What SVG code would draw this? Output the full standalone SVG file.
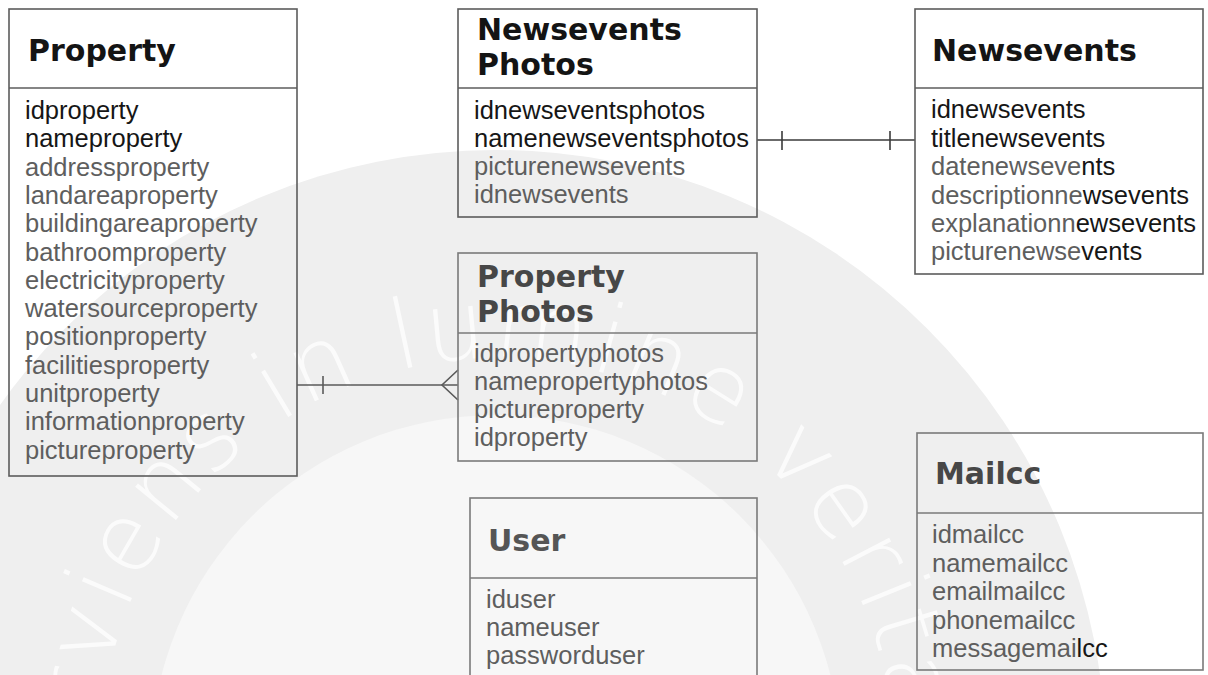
<svg xmlns="http://www.w3.org/2000/svg" width="1208" height="675" viewBox="0 0 1208 675">
  <defs>
    <style>
      .box { fill: none; stroke: #5c5c5c; stroke-width: 1.6; }
      .box-soft { fill: none; stroke: #7a7a7a; stroke-width: 1.6; }
      .title { font-family: "DejaVu Sans", "Liberation Sans", sans-serif; font-weight: bold; font-size: 30px; }
      .attr { font-family: "Liberation Sans", Arial, sans-serif; font-size: 25.5px; }
      .k { fill: #161616; }
      .g { fill: #5e5e5e; }
      .t-dark { fill: #141414; }
      .t-mid { fill: #474747; }
      .t-soft { fill: #555555; }
      .wire { fill: none; stroke: #3a3a3a; stroke-width: 1.6; }
      .wire-soft { fill: none; stroke: #5a5a5a; stroke-width: 1.6; }
      .seal-text { font-family: "DejaVu Sans", "Liberation Sans", sans-serif; font-weight: 200; font-size: 96px; letter-spacing: 4px; fill: #ffffff; fill-opacity: 0.75; }
    </style>
    <path id="motto-arc" d="M 107.3 829.6 A 396 396 0 1 1 839 952"/>
  </defs>

  <rect x="0" y="0" width="1208" height="675" fill="#ffffff"/>

  <!-- faint seal in the background -->
  <g id="seal">
    <circle cx="496" cy="760" r="610" fill="#efefef"/>
    <circle cx="496" cy="760" r="345" fill="#f7f7f7"/>
    <text class="seal-text"><textPath href="#motto-arc">serviens in lumine veritatis</textPath></text>
  </g>

  <!-- relationships -->
  <g id="connectors">
    <g id="newseventsphotos-newsevents">
      <line class="wire" x1="757" y1="140" x2="915" y2="140"/>
      <line class="wire" x1="782" y1="131" x2="782" y2="150"/>
      <line class="wire" x1="890" y1="131" x2="890" y2="150"/>
    </g>
    <g id="property-propertyphotos">
      <line class="wire-soft" x1="297" y1="385" x2="458" y2="385"/>
      <line class="wire-soft" x1="323" y1="376" x2="323" y2="394"/>
      <polyline class="wire-soft" points="458,370 442,385 458,400"/>
    </g>
  </g>

  <!-- Property -->
  <g id="property">
    <rect class="box" x="9" y="9" width="288" height="467"/>
    <line class="box" x1="9" y1="88" x2="297" y2="88"/>
    <text class="title t-dark" x="28" y="61">Property</text>
    <text class="attr" x="25">
      <tspan class="k" x="25" y="119">idproperty</tspan>
      <tspan class="k" x="25" y="147.3">nameproperty</tspan>
      <tspan class="g" x="25" y="175.6">addressproperty</tspan>
      <tspan class="g" x="25" y="203.9">landareaproperty</tspan>
      <tspan class="g" x="25" y="232.2">buildingareaproperty</tspan>
      <tspan class="g" x="25" y="260.5">bathroomproperty</tspan>
      <tspan class="g" x="25" y="288.8">electricityproperty</tspan>
      <tspan class="g" x="25" y="317.1">watersourceproperty</tspan>
      <tspan class="g" x="25" y="345.4">positionproperty</tspan>
      <tspan class="g" x="25" y="373.7">facilitiesproperty</tspan>
      <tspan class="g" x="25" y="402">unitproperty</tspan>
      <tspan class="g" x="25" y="430.3">informationproperty</tspan>
      <tspan class="g" x="25" y="458.6">pictureproperty</tspan>
    </text>
  </g>

  <!-- Newsevents Photos -->
  <g id="newseventsphotos">
    <rect class="box" x="458" y="9" width="299" height="208"/>
    <line class="box" x1="458" y1="88" x2="757" y2="88"/>
    <text class="title t-dark">
      <tspan x="477" y="40">Newsevents</tspan>
      <tspan x="477" y="75">Photos</tspan>
    </text>
    <text class="attr">
      <tspan class="k" x="474" y="119">idnewseventsphotos</tspan>
      <tspan class="k" x="474" y="147">namenewseventsphotos</tspan>
      <tspan class="g" x="474" y="175">picturenewsevents</tspan>
      <tspan class="g" x="474" y="203">idnewsevents</tspan>
    </text>
  </g>

  <!-- Newsevents -->
  <g id="newsevents">
    <rect class="box" x="915" y="9" width="288" height="265"/>
    <line class="box" x1="915" y1="88" x2="1203" y2="88"/>
    <text class="title t-dark" x="932" y="61">Newsevents</text>
    <text class="attr">
      <tspan class="k" x="931" y="118">idnewsevents</tspan>
      <tspan class="k" x="931" y="146.5">titlenewsevents</tspan>
      <tspan class="g" x="931" y="175">datenewseve</tspan><tspan class="k">nts</tspan>
      <tspan class="g" x="931" y="203.5">descriptionne</tspan><tspan class="k">wsevents</tspan>
      <tspan class="g" x="931" y="232">explanationn</tspan><tspan class="k">ewsevents</tspan>
      <tspan class="g" x="931" y="260">picturenewse</tspan><tspan class="k">vents</tspan>
    </text>
  </g>

  <!-- Property Photos -->
  <g id="propertyphotos">
    <rect class="box-soft" x="458" y="253" width="299" height="208"/>
    <line class="box-soft" x1="458" y1="333" x2="757" y2="333"/>
    <text class="title t-mid">
      <tspan x="477" y="287">Property</tspan>
      <tspan x="477" y="322">Photos</tspan>
    </text>
    <text class="attr g">
      <tspan x="474" y="362">idpropertyphotos</tspan>
      <tspan x="474" y="390">namepropertyphotos</tspan>
      <tspan x="474" y="418">pictureproperty</tspan>
      <tspan x="474" y="446">idproperty</tspan>
    </text>
  </g>

  <!-- User -->
  <g id="user">
    <rect class="box-soft" x="470" y="498" width="287" height="200"/>
    <line class="box-soft" x1="470" y1="578" x2="757" y2="578"/>
    <text class="title t-soft" x="488" y="551">User</text>
    <text class="attr g">
      <tspan x="486" y="608">iduser</tspan>
      <tspan x="486" y="636">nameuser</tspan>
      <tspan x="486" y="664">passworduser</tspan>
    </text>
  </g>

  <!-- Mailcc -->
  <g id="mailcc">
    <rect class="box-soft" x="917" y="433" width="286" height="237"/>
    <line class="box-soft" x1="917" y1="513" x2="1203" y2="513"/>
    <text class="title t-mid" x="935" y="484">Mailcc</text>
    <text class="attr">
      <tspan class="g" x="932" y="543">idmailcc</tspan>
      <tspan class="g" x="932" y="571.5">namemailcc</tspan>
      <tspan class="g" x="932" y="600">emailmailcc</tspan>
      <tspan class="g" x="932" y="628.5">phonemailcc</tspan>
      <tspan class="g" x="932" y="657">messagemai</tspan><tspan class="k">lcc</tspan>
    </text>
  </g>
</svg>
